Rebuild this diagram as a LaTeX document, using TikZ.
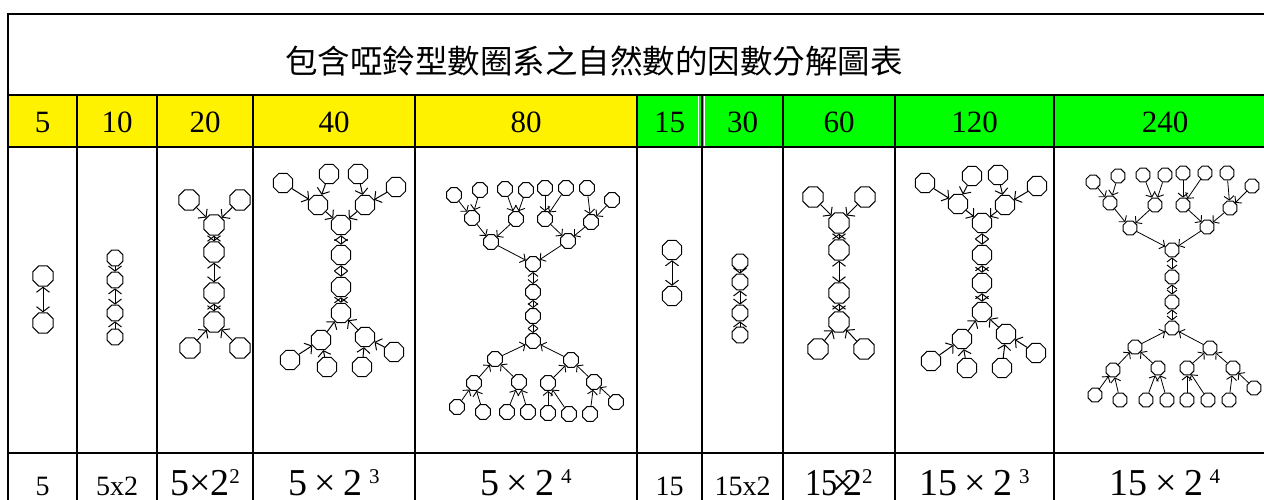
\documentclass[tikz,border=0pt]{standalone}
\usepackage{fontspec}
\setmainfont{Liberation Serif}
\newfontfamily\cjk{Noto Sans CJK TC}
\usetikzlibrary{shapes.geometric,arrows.meta}
\newcommand\supx[1]{\raisebox{0.31em}{\fontsize{21}{21}\selectfont #1}}
\begin{document}
\begin{tikzpicture}[x=1pt,y=-1pt,
  grid/.style={line width=1.8pt},
  oct/.style={draw, regular polygon, regular polygon sides=8, inner sep=0pt, minimum size=#1, line width=1pt},
  tip/.style={line width=1pt, -{Straight Barb[length=5pt,width=13pt,line width=1pt]}},
  dtip/.style={line width=1pt, {Straight Barb[length=5pt,width=13pt,line width=1pt]}-{Straight Barb[length=5pt,width=13pt,line width=1pt]}},
  stip/.style={line width=0.8pt, -{Straight Barb[length=4pt,width=10pt,line width=0.9pt]}},
  sdtip/.style={line width=0.8pt, {Straight Barb[length=4pt,width=10pt,line width=0.9pt]}-{Straight Barb[length=4pt,width=10pt,line width=0.9pt]}},
  hdr/.style={font=\fontsize{31}{31}\selectfont, anchor=base, inner sep=0pt},
  sm/.style={font=\fontsize{28}{28}\selectfont, anchor=base, inner sep=0pt},
  big/.style={font=\fontsize{38}{38}\selectfont, anchor=base, inner sep=0pt},
]
\useasboundingbox (0,0) rectangle (1264,499);
\clip (0,0) rectangle (1264,499);
% header fills
\fill[yellow] (8,95) rectangle (637,147);
\fill[green] (637,95) rectangle (1280,147);
% table rules
\draw[grid] (7.1,14) -- (1280,14);
\draw[grid] (8,95) -- (1280,95);
\draw[grid] (8,147) -- (1280,147);
\draw[grid] (8,453) -- (1280,453);
\draw[grid] (8,13.1) -- (8,510);
\foreach \x in {77,157,253,415,637,702,783,895,1054}
  \draw[grid] (\x,95) -- (\x,510);
\draw[white, line width=0.7pt] (698.2,96) -- (698.2,146);
\draw[white, line width=0.7pt] (704.6,96) -- (704.6,146);
% title
\node[font=\cjk\fontsize{32.5}{32.5}\selectfont, inner sep=0pt] (title) at (594,61) {包含啞鈴型數圈系之自然數的因數分解圖表};
% header numbers
\node[hdr] (h1) at (42.5,132) {5};
\node[hdr] (h2) at (117,132) {10};
\node[hdr] (h3) at (205,132) {20};
\node[hdr] (h4) at (334,132) {40};
\node[hdr] (h5) at (526,132) {80};
\node[hdr] (h6) at (669.5,132) {15};
\node[hdr] (h7) at (742.5,132) {30};
\node[hdr] (h8) at (839,132) {60};
\node[hdr] (h9) at (974.5,132) {120};
\node[hdr] (h10) at (1165,132) {240};
% bottom row
\node[sm] (f1) at (42.5,495) {5};
\node[sm] (f2) at (117,495) {5x2};
\node[big] (f3) at (205,495) {5×2\supx{2}};
\node[big] (f4) at (334,495) {5\hspace{0.2em}×\hspace{0.2em}2\,\supx{3}};
\node[big] (f5) at (526,495) {5\hspace{0.2em}×\hspace{0.2em}2\,\supx{4}};
\node[sm] (f6) at (669.5,495) {15};
\node[sm] (f7) at (742.5,495) {15x2};
\node[big] (f8) at (839,495) {\scalebox{0.85}[1]{15}\hspace{-5pt}×\hspace{-11pt}2\supx{2}};
\node[big] (f9) at (974.5,495) {15\hspace{0.2em}×\hspace{0.2em}2\,\supx{3}};
\node[big] (f10) at (1165,495) {15\hspace{0.2em}×\hspace{0.2em}2\,\supx{4}};

% ---- column 1 : 5
\node[oct=22] (a1) at (43,276) {};
\node[oct=22] (a2) at (43,323) {};
\draw[dtip] (a1) -- (a2);
% ---- column 2 : 10
\foreach \n/\y in {b1/258,b2/280,b3/313,b4/337} \node[oct=17] (\n) at (115,\y) {};
\draw[tip] (b1) -- (b2);
\draw[dtip] (b2) -- (b3);
\draw[tip] (b4) -- (b3);
% ---- column 3 : 20
\foreach \n/\x/\y in {cl1/189/200,cl2/240/200,c1/214/225,c2/214/252,c3/214/293,c4/214/322,cl3/190/348,cl4/240/348}
  \node[oct=22] (\n) at (\x,\y) {};
\foreach \a/\b in {cl1/c1,cl2/c1,cl3/c4,cl4/c4} \draw[tip] (\a) -- (\b);
\foreach \a/\b in {c1/c2,c2/c3,c3/c4} \draw[dtip] (\a) -- (\b);
% ---- column 4 : 40
\foreach \n/\x/\y in {dt1/283/183,dt2/329/174,dt3/358/174,dt4/396/187,dp1/318/205,dp2/365/205,dr/341/225,dc1/341/255,dc2/341/287,ds/341/313,dq1/321/340,dq2/365/337,db1/290/360,db2/327/367,db3/362/367,db4/394/352}
  \node[oct=21] (\n) at (\x,\y) {};
\foreach \a/\b in {dt1/dp1,dt2/dp1,dt3/dp2,dt4/dp2,dp1/dr,dp2/dr,dq1/ds,dq2/ds,db1/dq1,db2/dq1,db3/dq2,db4/dq2} \draw[tip] (\a) -- (\b);
\foreach \a/\b in {dr/dc1,dc1/dc2,dc2/ds} \draw[dtip] (\a) -- (\b);
% ---- column 5 : 80
\foreach \n/\x/\y in {et1/454/195,et2/480/190,et3/505/189,et4/526/190,et5/545/188,et6/566/188,et7/587/188,et8/612/200,
  ep1/472/218,ep2/516/219,ep3/545/219,ep4/591/222,eq1/491/242,eq2/568/241,er/533/264,ec1/533/292,ec2/533/316,es/533/341,
  eu1/495/359,eu2/571/360,ev1/474/383,ev2/519/382,ev3/548/383,ev4/594/382,
  ew1/457/407,ew2/483/412,ew3/507/412,ew4/528/412,ew5/548/413,ew6/569/414,ew7/590/414,ew8/616/402}
  \node[oct=16] (\n) at (\x,\y) {};
\foreach \a/\b in {et1/ep1,et2/ep1,et3/ep2,et4/ep2,et5/ep3,et6/ep3,et7/ep4,et8/ep4,ep1/eq1,ep2/eq1,ep3/eq2,ep4/eq2,eq1/er,eq2/er,
  eu1/es,eu2/es,ev1/eu1,ev2/eu1,ev3/eu2,ev4/eu2,ew1/ev1,ew2/ev1,ew3/ev2,ew4/ev2,ew5/ev3,ew6/ev3,ew7/ev4,ew8/ev4}
  \draw[stip] (\a) -- (\b);
\foreach \a/\b in {er/ec1,ec1/ec2,ec2/es} \draw[sdtip] (\a) -- (\b);
% ---- column 6 : 15
\node[oct=21] (f61) at (672,250) {};
\node[oct=21] (f62) at (672,296) {};
\draw[dtip] (f61) -- (f62);
% ---- column 7 : 30
\foreach \n/\y in {g1/262,g2/282,g3/313,g4/335} \node[oct=17] (\n) at (740,\y) {};
\draw[tip] (g1) -- (g2);
\draw[dtip] (g2) -- (g3);
\draw[tip] (g4) -- (g3);
% ---- column 8 : 60
\foreach \n/\x/\y in {hl1/813/197,hl2/865/197,hc1/839/223,hc2/839/250,hc3/839/293,hc4/839/322,hl3/818/349,hl4/864/349}
  \node[oct=22] (\n) at (\x,\y) {};
\foreach \a/\b in {hl1/hc1,hl2/hc1,hl3/hc4,hl4/hc4} \draw[tip] (\a) -- (\b);
\foreach \a/\b in {hc1/hc2,hc2/hc3,hc3/hc4} \draw[dtip] (\a) -- (\b);
% ---- column 9 : 120
\foreach \n/\x/\y in {it1/925/183,it2/972/176,it3/998/175,it4/1037/186,ip1/958/204,ip2/1005/205,ir/982/223,ic1/982/255,ic2/982/283,is/982/312,iq1/962/339,iq2/1006/334,ib1/931/361,ib2/967/368,ib3/1002/368,ib4/1036/353}
  \node[oct=21] (\n) at (\x,\y) {};
\foreach \a/\b in {it1/ip1,it2/ip1,it3/ip2,it4/ip2,ip1/ir,ip2/ir,iq1/is,iq2/is,ib1/iq1,ib2/iq1,ib3/iq2,ib4/iq2} \draw[tip] (\a) -- (\b);
\foreach \a/\b in {ir/ic1,ic1/ic2,ic2/is} \draw[dtip] (\a) -- (\b);
% ---- column 10 : 240
\foreach \n/\x/\y in {jt1/1093/182,jt2/1118/176,jt3/1143/175,jt4/1165/175,jt5/1183/173,jt6/1205/173,jt7/1227/173,jt8/1252/186,
  jp1/1110/203,jp2/1155/205,jp3/1183/205,jp4/1230/208,jq1/1130/228,jq2/1207/227,jr/1172/250,jc1/1172/277,jc2/1172/302,js/1172/328,
  ju1/1135/347,ju2/1210/348,jv1/1113/370,jv2/1158/368,jv3/1187/368,jv4/1233/368,
  jw1/1095/395,jw2/1120/400,jw3/1146/400,jw4/1167/400,jw5/1187/400,jw6/1208/400,jw7/1229/400,jw8/1254/388}
  \node[oct=15] (\n) at (\x,\y) {};
\foreach \a/\b in {jt1/jp1,jt2/jp1,jt3/jp2,jt4/jp2,jt5/jp3,jt6/jp3,jt7/jp4,jt8/jp4,jp1/jq1,jp2/jq1,jp3/jq2,jp4/jq2,jq1/jr,jq2/jr,
  ju1/js,ju2/js,jv1/ju1,jv2/ju1,jv3/ju2,jv4/ju2,jw1/jv1,jw2/jv1,jw3/jv2,jw4/jv2,jw5/jv3,jw6/jv3,jw7/jv4,jw8/jv4}
  \draw[stip] (\a) -- (\b);
\foreach \a/\b in {jr/jc1,jc1/jc2,jc2/js} \draw[sdtip] (\a) -- (\b);
\end{tikzpicture}
\end{document}
